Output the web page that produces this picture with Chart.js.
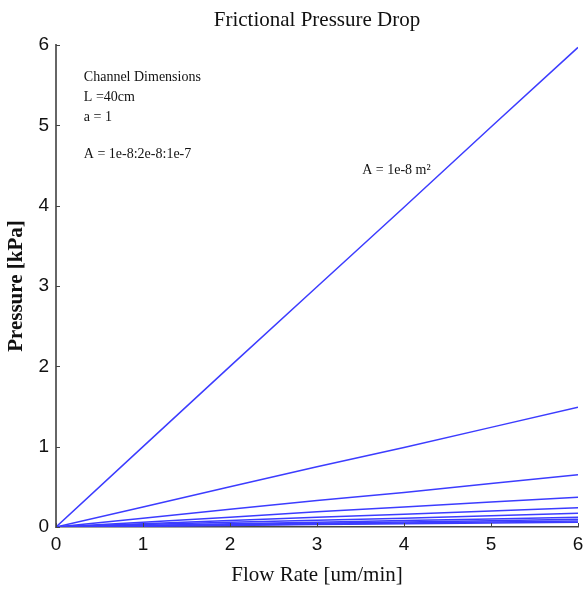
<!DOCTYPE html>
<html>
<head>
<meta charset="utf-8">
<script src="https://cdn.jsdelivr.net/npm/chart.js@4.4.0/dist/chart.umd.min.js"></script>
<style>
  html, body { margin: 0; padding: 0; background: #fff; }
  #wrap { width: 585px; height: 591px; }
</style>
</head>
<body>
<div id="wrap"><canvas id="myChart"></canvas></div>
<script>
const ctx = document.getElementById('myChart').getContext('2d');

// flow rate [um/min]
const flowRate = [0, 1, 2, 3, 4, 5, 6];

// channel areas A = 1e-8 ... 1e-7
const areas = ['1e-8', '2e-8', '3e-8', '4e-8', '5e-8', '6e-8', '7e-8', '8e-8', '9e-8', '1e-7'];

// pressure [kPa], one row per area
const p1 = [0, 1.0, 2.0, 2.99, 3.98, 4.98, 5.97];
const p2 = [0, 0.25, 0.50, 0.75, 0.99, 1.24, 1.49];
const p3 = [0, 0.11, 0.22, 0.33, 0.43, 0.54, 0.65];
const p4 = [0, 0.06, 0.12, 0.19, 0.25, 0.31, 0.37];
const p5 = [0, 0.04, 0.08, 0.12, 0.16, 0.20, 0.24];
const p6 = [0, 0.03, 0.06, 0.085, 0.11, 0.14, 0.17];
const p7 = [0, 0.02, 0.04, 0.06, 0.08, 0.10, 0.12];
const p8 = [0, 0.016, 0.032, 0.048, 0.063, 0.079, 0.095];
const p9 = [0, 0.012, 0.025, 0.037, 0.05, 0.062, 0.075];
const p10 = [0, 0.01, 0.02, 0.03, 0.04, 0.05, 0.06];
const pressure = [p1, p2, p3, p4, p5, p6, p7, p8, p9, p10];

const xTicks = [0, 1, 2, 3, 4, 5, 6];
const yTicks = [0, 1, 2, 3, 4, 5, 6];

// text notes placed in data units
const notes = [
  { x: 0.32, y: 5.6, text: 'Channel Dimensions' },
  { x: 0.32, y: 5.35, text: 'L =40cm' },
  { x: 0.32, y: 5.1, text: 'a = 1' },
  { x: 0.32, y: 4.64, text: 'A = 1e-8:2e-8:1e-7' },
  { x: 3.52, y: 4.44, text: 'A = 1e-8 m\u00B2' },
];

const lineColor = 'rgb(60,60,255)';
const serif = '"Liberation Serif", "Times New Roman", serif';
const sans = '"Liberation Sans", Arial, sans-serif';

const datasets = pressure.map((vals, i) => ({
  label: 'A = ' + areas[i],
  data: flowRate.map((q, j) => ({ x: q, y: vals[j] })),
  borderColor: lineColor,
  borderWidth: 1.5,
  pointRadius: 0,
  fill: false,
  tension: 0,
}));

// short ticks pointing into the plot, plus the text notes
const extras = {
  id: 'extras',
  afterDatasetsDraw(chart) {
    const { ctx, chartArea, scales } = chart;
    const c = ctx;
    c.save();
    c.strokeStyle = '#444';
    c.lineWidth = 1;
    xTicks.forEach((t) => {
      const px = Math.round(scales.x.getPixelForValue(t)) + 0.5;
      c.beginPath();
      c.moveTo(px, chartArea.bottom);
      c.lineTo(px, chartArea.bottom - 4);
      c.stroke();
    });
    yTicks.forEach((t) => {
      const py = Math.round(scales.y.getPixelForValue(t)) + 0.5;
      c.beginPath();
      c.moveTo(chartArea.left, py);
      c.lineTo(chartArea.left + 4, py);
      c.stroke();
    });
    c.fillStyle = '#111';
    c.font = '14px ' + serif;
    c.textBaseline = 'middle';
    c.textAlign = 'left';
    notes.forEach((n) => {
      c.fillText(n.text, scales.x.getPixelForValue(n.x), scales.y.getPixelForValue(n.y));
    });
    c.restore();
  },
};

const config = {
  type: 'line',
  data: { datasets },
  options: {
    responsive: true,
    maintainAspectRatio: false,
    animation: false,
    layout: { padding: { left: 0, right: 7, top: 0, bottom: 0 } },
    plugins: {
      legend: { display: false },
      tooltip: { enabled: false },
      title: {
        display: true,
        text: 'Frictional Pressure Drop',
        fullSize: false,
        color: '#111',
        font: { family: serif, size: 21, weight: 'normal' },
        padding: { top: 8, bottom: 11.8 },
      },
    },
    scales: {
      x: {
        type: 'linear',
        min: 0,
        max: 6,
        afterBuildTicks: (s) => { s.ticks = xTicks.map((v) => ({ value: v })); },
        afterFit: (s) => { s.height = 64; s.paddingLeft = 0; s.paddingRight = 0; },
        grid: { display: true, drawOnChartArea: false, drawTicks: false },
        border: { display: true, color: '#444', width: 1.5 },
        ticks: { color: '#111', padding: 6, font: { family: sans, size: 19 } },
        title: {
          display: true,
          text: 'Flow Rate [um/min]',
          color: '#111',
          font: { family: serif, size: 21 },
          padding: { top: 0, bottom: 3 },
        },
      },
      y: {
        type: 'linear',
        min: 0,
        max: 6,
        afterBuildTicks: (s) => { s.ticks = yTicks.map((v) => ({ value: v })); },
        afterFit: (s) => { s.width = 56; s.paddingTop = 0; s.paddingBottom = 0; },
        grid: { display: true, drawOnChartArea: false, drawTicks: false },
        border: { display: true, color: '#666', width: 2 },
        ticks: { color: '#111', padding: 7, font: { family: sans, size: 19 } },
        title: {
          display: true,
          text: 'Pressure [kPa]',
          color: '#111',
          font: { family: serif, size: 21, weight: 'bold' },
          padding: { top: 4, bottom: 0 },
        },
      },
    },
  },
  plugins: [extras],
};

const myChart = new Chart(ctx, config);
</script>
</body>
</html>
